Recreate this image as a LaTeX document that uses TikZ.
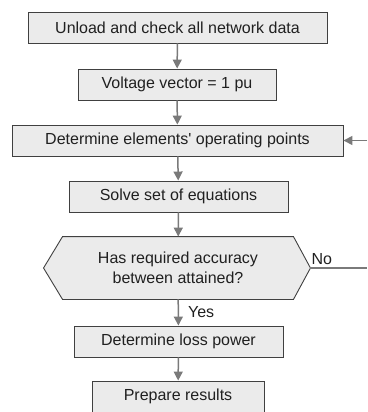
\documentclass[tikz,border=0pt]{standalone}
\usepackage{fontspec}
\setmainfont{Liberation Sans}
\usetikzlibrary{arrows.meta,backgrounds}
\definecolor{boxfill}{HTML}{EBEBEB}
\definecolor{boxline}{HTML}{404040}
\definecolor{flowgray}{HTML}{7A7A7A}
\definecolor{textgray}{HTML}{202020}

\begin{document}
\begin{tikzpicture}[x=1pt, y=-1pt,
  >={Triangle[length=9pt,width=9pt]},
  box/.style={draw=boxline, fill=boxfill, line width=0.9pt, rectangle,
    minimum height=31pt, inner sep=0pt, text=textgray,
    font=\fontsize{16}{20}\selectfont},
  flow/.style={draw=flowgray, line width=1.5pt, ->},
  lbl/.style={text=textgray, inner sep=0pt, font=\fontsize{16}{20}\selectfont}]
  \useasboundingbox (0,0) rectangle (367,412);
  % process steps
  \node[box, minimum width=299pt] (unload) at (177.5,27.5) {Unload and check all network data};
  \node[box, minimum width=198pt] (voltage) at (177,84.5) {Voltage vector = 1 pu};
  \node[box, minimum width=331pt] (oppoints) at (177.5,140.5) {Determine elements\textquotesingle\ operating points};
  \node[box, minimum width=219pt] (solve) at (178.5,196.5) {Solve set of equations};
  \node[box, draw=none, fill=none, minimum width=230pt, minimum height=62pt, align=center] (accuracy) at (178,268)
    {Has required accuracy\\between attained?};
  \node[box, minimum width=209pt] (losspower) at (178.5,341.5) {Determine loss power};
  \node[box, minimum width=172pt] (results) at (178,396.5) {Prepare results};
  % decision outline
  \begin{scope}[on background layer]
    \filldraw[draw=boxline, fill=boxfill, line width=0.9pt]
      (accuracy.north west) -- (accuracy.north east) -- ([xshift=17pt]accuracy.east)
      -- (accuracy.south east) -- (accuracy.south west) -- ([xshift=-19pt]accuracy.west) -- cycle;
  \end{scope}
  % loop ends at the picture edge
  \coordinate (noend) at (367,268);
  \coordinate (backin) at (367,140.5);
  % connectors
  \draw[flow] (unload) -- (voltage);
  \draw[flow] (voltage) -- (oppoints);
  \draw[flow] (oppoints) -- (solve);
  \draw[flow] (solve) -- (accuracy);
  \draw[flow] (accuracy) -- (losspower) node[lbl, midway, anchor=west, xshift=9pt] {Yes};
  \draw[flow] (losspower) -- (results);
  \draw[flow, -] ([xshift=17pt]accuracy.east) -- (noend) node[lbl, pos=0.2, anchor=south, yshift=3pt] {No};
  \draw[flow] (backin) -- (oppoints.east);
\end{tikzpicture}
\end{document}
